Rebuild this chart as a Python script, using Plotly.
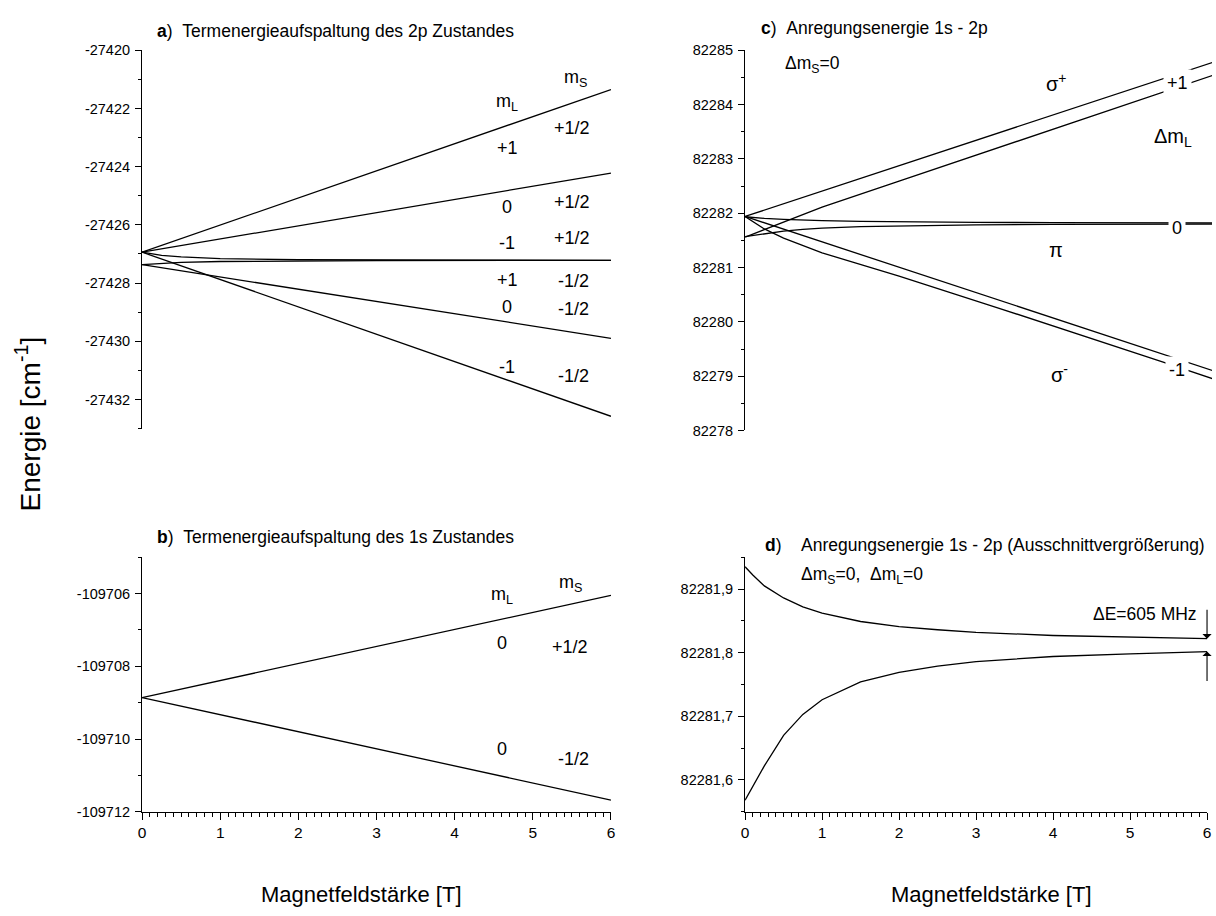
import plotly.graph_objects as go

W, H = 1216, 916
FONT = "Liberation Sans, Arial, sans-serif"

# ---------------- data ----------------
# a) term energies of the 2p state [cm^-1] vs. magnetic field [T]
a_field = [0, 6]
a_p1_up = [-27426.94, -27421.35]   # mL=+1, mS=+1/2
a_0_up = [-27426.94, -27424.22]    # mL=0,  mS=+1/2
a_0_dn = [-27427.37, -27429.90]    # mL=0,  mS=-1/2
a_m1_dn = [-27426.94, -27432.58]   # mL=-1, mS=-1/2
a_mix_field = [0, 0.25, 0.5, 1, 2, 3, 6]
a_m1_up = [-27426.94, -27427.05, -27427.10, -27427.16, -27427.20, -27427.21, -27427.22]  # mL=-1, mS=+1/2
a_p1_dn = [-27427.37, -27427.32, -27427.29, -27427.26, -27427.24, -27427.23, -27427.22]  # mL=+1, mS=-1/2

# b) term energies of the 1s state [cm^-1]
b_field = [0, 6]
b_up = [-109708.86, -109706.05]    # mS=+1/2
b_dn = [-109708.86, -109711.68]    # mS=-1/2

# c) excitation energies 1s - 2p [cm^-1]
c_lin_field = [0, 6.1]
c_sp_hi = [82281.94, 82284.79]     # sigma+
c_sm_hi = [82281.94, 82279.09]     # sigma-
c_sp_lo_field = [0, 0.25, 0.5, 1, 2, 5.47, 6.1]
c_sp_lo = [82281.56, 82281.70, 82281.84, 82282.11, 82282.59, 82284.25, 82284.55]
c_sm_lo_field = [0, 0.25, 0.5, 1, 2, 3.3, 5.47, 6.1]
c_sm_lo = [82281.94, 82281.71, 82281.54, 82281.27, 82280.84, 82280.25, 82279.24, 82278.94]

# d) pi transitions (also drawn in c)
d_field = [0, 0.1, 0.25, 0.5, 0.75, 1, 1.5, 2, 2.5, 3, 4, 5, 6, 6.1]
d_hi = [82281.935, 82281.922, 82281.905, 82281.886, 82281.872, 82281.862, 82281.849,
        82281.841, 82281.836, 82281.832, 82281.827, 82281.824, 82281.822, 82281.822]
d_lo = [82281.568, 82281.590, 82281.622, 82281.670, 82281.703, 82281.726, 82281.754,
        82281.769, 82281.779, 82281.786, 82281.794, 82281.798, 82281.802, 82281.802]

# splitting at 6 T marked by arrows (tail, head)
d_arrow_tail = [82281.870, 82281.753]
d_arrow_head = [82281.822, 82281.802]

# tick labels
a_ticks = [-27420, -27422, -27424, -27426, -27428, -27430, -27432]
a_ticktext = ["-27420", "-27422", "-27424", "-27426", "-27428", "-27430", "-27432"]
b_ticks = [-109706, -109708, -109710, -109712]
b_ticktext = ["-109706", "-109708", "-109710", "-109712"]
c_ticks = [82278, 82279, 82280, 82281, 82282, 82283, 82284, 82285]
c_ticktext = ["82278", "82279", "82280", "82281", "82282", "82283", "82284", "82285"]
d_ticks = [82281.6, 82281.7, 82281.8, 82281.9]
d_ticktext = ["82281,6", "82281,7", "82281,8", "82281,9"]
x_ticks = [0, 1, 2, 3, 4, 5, 6]
x_ticktext = ["0", "1", "2", "3", "4", "5", "6"]

# quantum-number labels
a_lbl_text = ["m<sub>S</sub>", "m<sub>L</sub>", "+1/2", "+1", "0", "+1/2", "-1", "+1/2",
              "+1", "-1/2", "0", "-1/2", "-1", "-1/2"]
a_lbl_x = [5.55, 4.67, 5.5, 4.67, 4.67, 5.5, 4.67, 5.5, 4.67, 5.52, 4.67, 5.52, 4.67, 5.52]
a_lbl_y = [-27420.98, -27421.8, -27422.66, -27423.37, -27425.4, -27425.2, -27426.63, -27426.46,
           -27427.88, -27427.92, -27428.82, -27428.89, -27430.9, -27431.18]

b_lbl_text = ["m<sub>L</sub>", "m<sub>S</sub>", "0", "+1/2", "0", "-1/2"]
b_lbl_x = [4.61, 5.48, 4.61, 5.48, 4.61, 5.52]
b_lbl_y = [-109706.05, -109705.72, -109707.35, -109707.46, -109710.27, -109710.54]

c_lbl_text = ["σ<sup>+</sup>", "Δm<sub>L</sub>", "π", "σ<sup>-</sup>"]
c_lbl_x = [4.04, 5.56, 4.04, 4.08]
c_lbl_y = [82284.40, 82283.40, 82281.32, 82279.04]

c_gap_text = ["+1", "0", "-1"]
c_gap_x = [5.61, 5.61, 5.61]
c_gap_y = [82284.39, 82281.72, 82279.12]


def px_x(p):
    return p / W


def px_y(p):
    return 1 - p / H


def font(size):
    return dict(family=FONT, size=size, color="black")


fig = go.Figure()


def add_line(x, y, xa, ya):
    fig.add_trace(go.Scatter(x=x, y=y, mode="lines", line=dict(color="black", width=1.3),
                             xaxis=xa, yaxis=ya, hoverinfo="skip", showlegend=False))


for ys in (a_p1_up, a_0_up, a_0_dn, a_m1_dn):
    add_line(a_field, ys, "x", "y")
for ys in (a_m1_up, a_p1_dn):
    add_line(a_mix_field, ys, "x", "y")

for ys in (b_up, b_dn):
    add_line(b_field, ys, "x2", "y2")

add_line(c_lin_field, c_sp_hi, "x3", "y3")
add_line(c_lin_field, c_sm_hi, "x3", "y3")
add_line(c_sp_lo_field, c_sp_lo, "x3", "y3")
add_line(c_sm_lo_field, c_sm_lo, "x3", "y3")
add_line(d_field, d_hi, "x3", "y3")
add_line(d_field, d_lo, "x3", "y3")

add_line(d_field, d_hi, "x4", "y4")
add_line(d_field, d_lo, "x4", "y4")


def yaxis_style(domain, rng, tickvals, ticktext, minor_dtick, anchor):
    return dict(domain=domain, range=rng, anchor=anchor, tickvals=tickvals, ticktext=ticktext,
                showline=True, linecolor="black", linewidth=1.3, ticks="outside", ticklen=6,
                tickwidth=1.3, tickcolor="black", showgrid=False, zeroline=False,
                tickfont=font(14.5), ticklabelstandoff=2,
                minor=dict(dtick=minor_dtick, tick0=0, ticks="outside", ticklen=3,
                           tickwidth=1.2, tickcolor="black", showgrid=False))


def xaxis_style(domain, anchor):
    return dict(domain=domain, range=[0, 6], anchor=anchor, tickvals=x_ticks, ticktext=x_ticktext,
                showline=True, linecolor="black", linewidth=1.3, ticks="outside", ticklen=7,
                tickwidth=1.3, tickcolor="black", showgrid=False, zeroline=False,
                tickfont=font(15.5),
                minor=dict(dtick=0.1, tick0=0, ticks="outside", ticklen=4,
                           tickwidth=1.2, tickcolor="black", showgrid=False))


left_dom = [px_x(139), px_x(611)]
right_dom = [px_x(746), px_x(1211)]
top_dom = [px_y(428), px_y(43)]
bot_dom = [px_y(818), px_y(559)]

fig.update_layout(
    width=W, height=H, margin=dict(l=0, r=0, t=0, b=0),
    paper_bgcolor="white", plot_bgcolor="white", showlegend=False,
    xaxis=dict(domain=left_dom, range=[0, 6], anchor="y", visible=False),
    yaxis=yaxis_style(top_dom, [-27433, -27420], a_ticks, a_ticktext, 1, "x"),
    xaxis2=xaxis_style(left_dom, "y2"),
    yaxis2=yaxis_style(bot_dom, [-109712, -109705], b_ticks, b_ticktext, 1, "x2"),
    xaxis3=dict(domain=[px_x(746), 1.0], range=[0, 6 * (W - 746) / (1211 - 746)], anchor="y3",
                visible=False),
    yaxis3=yaxis_style([px_y(430), px_y(43)], [82278, 82285], c_ticks, c_ticktext, 0.5, "x3"),
    xaxis4=xaxis_style(right_dom, "y4"),
    yaxis4=yaxis_style(bot_dom, [82281.55, 82281.95], d_ticks, d_ticktext, 0.05, "x4"),
)

ann = []
for t, x, y in zip(a_lbl_text, a_lbl_x, a_lbl_y):
    ann.append(dict(text=t, x=x, y=y, xref="x", yref="y", showarrow=False, font=font(18)))
for t, x, y in zip(b_lbl_text, b_lbl_x, b_lbl_y):
    ann.append(dict(text=t, x=x, y=y, xref="x2", yref="y2", showarrow=False, font=font(18)))
for t, x, y in zip(c_lbl_text, c_lbl_x, c_lbl_y):
    ann.append(dict(text=t, x=x, y=y, xref="x3", yref="y3", showarrow=False, font=font(20)))
for t, x, y in zip(c_gap_text, c_gap_x, c_gap_y):
    ann.append(dict(text=t, x=x, y=y, xref="x3", yref="y3", showarrow=False, font=font(18),
                    bgcolor="white", borderpad=3))

TITLE_SIZE = 17.5
nb = "\u00a0"


def paper_text(text, x, y, size=TITLE_SIZE, xanchor="left", **kw):
    ann.append(dict(text=text, x=px_x(x), y=px_y(y), xref="paper", yref="paper",
                    xanchor=xanchor, yanchor="middle", showarrow=False, font=font(size), **kw))


paper_text("<b>a</b>)" + nb * 2 + "Termenergieaufspaltung des 2p Zustandes", 152, 23)
paper_text("<b>b</b>)" + nb * 2 + "Termenergieaufspaltung des 1s Zustandes", 152, 538)
paper_text("<b>c</b>)" + nb * 2 + "Anregungsenergie 1s - 2p", 760, 20)
paper_text("Δm<sub>S</sub>=0", 784, 57)
paper_text("<b>d</b>)", 764, 547)
paper_text("Anregungsenergie 1s - 2p (Ausschnittvergrößerung)", 800, 547)
paper_text("Δm<sub>S</sub>=0," + nb * 2 + "Δm<sub>L</sub>=0", 800, 578)
paper_text("ΔE=605 MHz", 1203, 617, xanchor="right")

paper_text("Magnetfeldstärke [T]", 360, 902, size=22, xanchor="center")
paper_text("Magnetfeldstärke [T]", 994, 902, size=22, xanchor="center")
paper_text("Energie [cm<sup>-1</sup>]", 24, 423, size=28, xanchor="center", textangle=-90)

# arrows marking the splitting at 6 T
for tail, head in zip(d_arrow_tail, d_arrow_head):
    ann.append(dict(text="", x=6, y=head, ax=6, ay=tail, xref="x4", yref="y4",
                    axref="x4", ayref="y4", showarrow=True, arrowhead=1, arrowsize=1.4,
                    arrowwidth=1.1, arrowcolor="black", standoff=0, font=font(12)))

fig.update_layout(annotations=ann)
fig.write_html("out.html", config={"displayModeBar": False})
